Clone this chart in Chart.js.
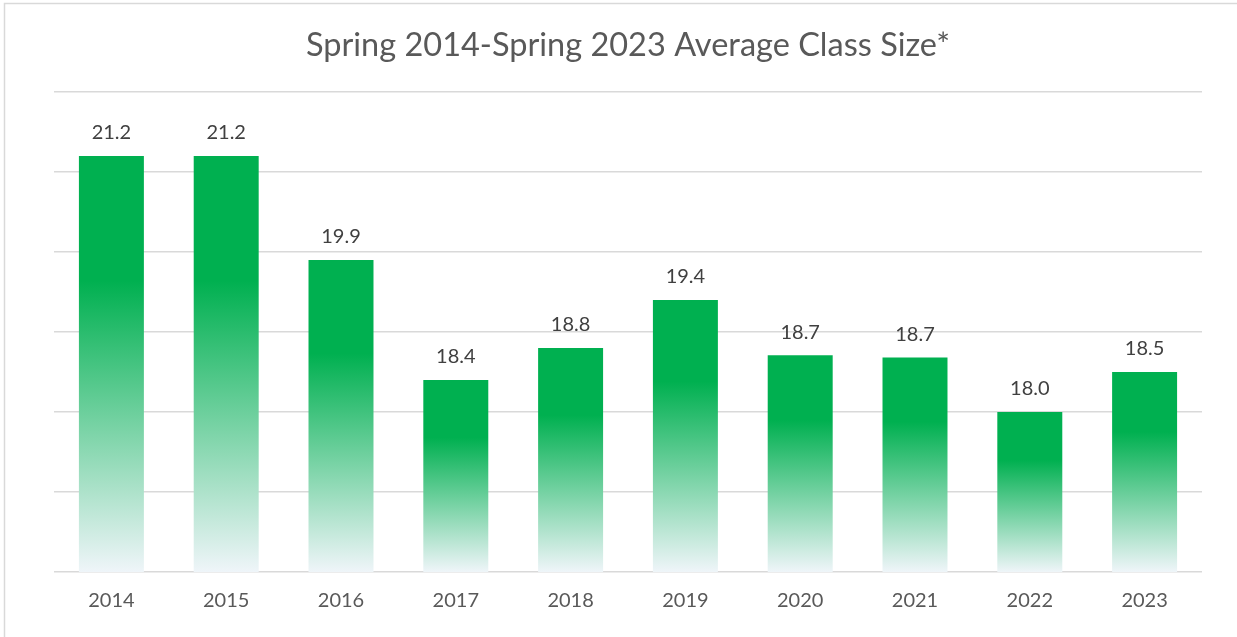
<!DOCTYPE html>
<html>
<head>
<meta charset="utf-8">
<script src="https://cdn.jsdelivr.net/npm/chart.js@4"></script>
<style>
  html, body { margin: 0; padding: 0; background: #ffffff; }
  #wrap { width: 1237px; height: 637px; position: relative; }
</style>
</head>
<body>
<div id="wrap"><canvas id="c" width="1237" height="637"></canvas></div>
<script>
const categories = ['2014', '2015', '2016', '2017', '2018', '2019', '2020', '2021', '2022', '2023'];
const classSize = [21.2, 21.2, 19.9, 18.4, 18.8, 19.4, 18.71, 18.68, 18.0, 18.5];
const yMin = 16;
const yMax = 22;
const titleText = 'Spring 2014-Spring 2023 Average Class Size*';

const GREEN = '#00B050';
const FADE = '#EFF5F9';

function barGradient(context) {
  const chart = context.chart;
  const area = chart.chartArea;
  if (!area || context.dataIndex === undefined) return GREEN;
  const yScale = chart.scales.y;
  const top = yScale.getPixelForValue(context.raw);
  const bottom = yScale.getPixelForValue(yMin);
  if (!isFinite(top) || !isFinite(bottom) || bottom - top < 1) return GREEN;
  const g = chart.ctx.createLinearGradient(0, top, 0, bottom);
  g.addColorStop(0, GREEN);
  g.addColorStop(0.3, GREEN);
  g.addColorStop(1, FADE);
  return g;
}

const frame = {
  id: 'frame',
  afterDraw(chart) {
    const ctx = chart.ctx;
    ctx.save();
    ctx.strokeStyle = '#d9d9d9';
    ctx.lineWidth = 1.5;
    ctx.strokeRect(4.5, 3.5, 1400, 1400);
    ctx.restore();
  }
};

const valueLabels = {
  id: 'valueLabels',
  afterDatasetsDraw(chart) {
    const ctx = chart.ctx;
    const meta = chart.getDatasetMeta(0);
    ctx.save();
    ctx.font = '20px Lato';
    ctx.fillStyle = '#404040';
    ctx.textAlign = 'center';
    ctx.textBaseline = 'middle';
    meta.data.forEach((bar, i) => {
      ctx.fillText(classSize[i].toFixed(1), bar.x, bar.y - 23);
    });
    ctx.restore();
  }
};

new Chart(document.getElementById('c'), {
  type: 'bar',
  data: {
    labels: categories,
    datasets: [{
      data: classSize,
      backgroundColor: barGradient,
      borderWidth: 0,
      barPercentage: 0.566,
      categoryPercentage: 1.0
    }]
  },
  options: {
    responsive: false,
    animation: false,
    devicePixelRatio: 1,
    layout: { padding: { left: 54, right: 35, top: 0, bottom: 7 } },
    plugins: {
      legend: { display: false },
      tooltip: { enabled: false },
      title: {
        display: true,
        text: titleText,
        color: '#595959',
        font: { family: 'Lato', size: 32.5, weight: 'normal' },
        padding: { top: 26, bottom: 27 }
      }
    },
    scales: {
      x: {
        grid: { display: false, drawTicks: false },
        border: { display: false },
        ticks: {
          color: '#595959',
          font: { family: 'Lato', size: 20 },
          padding: 17
        }
      },
      y: {
        min: yMin,
        max: yMax,
        grid: { color: '#d9d9d9', lineWidth: 1.5, drawTicks: false },
        border: { display: false },
        ticks: { display: false, stepSize: 1 }
      }
    }
  },
  plugins: [frame, valueLabels]
});
</script>
</body>
</html>
